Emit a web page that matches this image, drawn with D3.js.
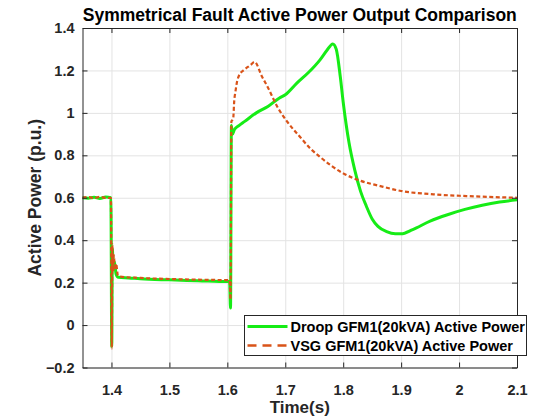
<!DOCTYPE html>
<html>
<head>
<meta charset="utf-8">
<script src="https://cdn.jsdelivr.net/npm/d3@7"></script>
<style>
  body { margin: 0; background: #fff; }
  svg { display: block; font-family: 'Liberation Sans', Arial, sans-serif; font-weight: bold; }
  .grid line { stroke: #e3e3e3; stroke-width: 1; }
  .grid .domain { display: none; }
  .axis text { fill: #262626; font-size: 14.5px; }
  .axis line, .axis path { stroke: #262626; }
</style>
</head>
<body>
<div id="chart"></div>
<script>
// droop GFM1 active power
const droopTime = [1.35, 1.36, 1.37, 1.38, 1.39, 1.399, 1.4005, 1.4015, 1.403, 1.405, 1.408, 1.412,
  1.43, 1.45, 1.5, 1.55, 1.6, 1.604, 1.6055, 1.607, 1.609, 1.612, 1.62, 1.63, 1.65, 1.67, 1.69,
  1.7, 1.72, 1.74, 1.76, 1.772, 1.782, 1.788, 1.795, 1.8, 1.81, 1.82, 1.83, 1.84, 1.85, 1.86,
  1.875, 1.89, 1.9, 1.92, 1.95, 1.98, 2.01, 2.04, 2.07, 2.1]
const droopPower = [0.6, 0.598, 0.602, 0.597, 0.603, 0.6, -0.1, 0.36, 0.27, 0.3, 0.24, 0.225,
  0.222, 0.218, 0.213, 0.209, 0.205, 0.205, 0.08, 0.94, 0.9, 0.92, 0.94, 0.96, 1.0, 1.03, 1.07,
  1.085, 1.14, 1.19, 1.25, 1.295, 1.325, 1.3, 1.17, 1.05, 0.86, 0.73, 0.63, 0.56, 0.5, 0.465,
  0.44, 0.43, 0.43, 0.45, 0.49, 0.52, 0.545, 0.565, 0.58, 0.59]

// VSG GFM1 active power
const vsgTime = [1.35, 1.36, 1.37, 1.38, 1.39, 1.399, 1.4005, 1.4015, 1.4025, 1.404, 1.406, 1.408,
  1.411, 1.415, 1.45, 1.5, 1.55, 1.6, 1.604, 1.6055, 1.607, 1.61, 1.612, 1.614, 1.617, 1.62,
  1.63, 1.64, 1.647, 1.66, 1.67, 1.686, 1.703, 1.726, 1.744, 1.761, 1.78, 1.8, 1.83, 1.864,
  1.9, 1.956, 2.013, 2.05, 2.1]
const vsgPower = [0.6, 0.603, 0.598, 0.604, 0.599, 0.6, -0.11, 0.38, 0.25, 0.33, 0.26, 0.29,
  0.235, 0.228, 0.222, 0.217, 0.214, 0.212, 0.212, 0.12, 0.96, 0.97, 1.06, 1.1, 1.15, 1.175,
  1.205, 1.225, 1.24, 1.17, 1.12, 1.03, 0.96, 0.885, 0.83, 0.79, 0.75, 0.715, 0.68, 0.655,
  0.632, 0.616, 0.608, 0.604, 0.6]

const xTicks = [1.4, 1.5, 1.6, 1.7, 1.8, 1.9, 2, 2.1]
const yTicks = [-0.2, 0, 0.2, 0.4, 0.6, 0.8, 1, 1.2, 1.4]

const seriesNames = ['Droop GFM1(20kVA) Active Power', 'VSG GFM1(20kVA) Active Power']
const seriesColors = ['#16ec16', '#d95319']

const width = 536
const height = 418
const margin = { top: 28, right: 19, bottom: 50.5, left: 82.5 }
const innerW = width - margin.left - margin.right
const innerH = height - margin.top - margin.bottom

const svg = d3
  .select('#chart')
  .append('svg')
  .attr('width', width)
  .attr('height', height)

const g = svg.append('g').attr('transform', `translate(${margin.left},${margin.top})`)

const x = d3.scaleLinear().domain([1.35, 2.1]).range([0, innerW])
const y = d3.scaleLinear().domain([-0.2, 1.4]).range([innerH, 0])

// grid
g.append('g')
  .attr('class', 'grid')
  .attr('transform', `translate(0,${innerH})`)
  .call(d3.axisBottom(x).tickValues(xTicks).tickSize(-innerH).tickFormat(''))
g.append('g')
  .attr('class', 'grid')
  .call(d3.axisLeft(y).tickValues(yTicks).tickSize(-innerW).tickFormat(''))

// series
const line = d3
  .line()
  .x((d) => x(d[0]))
  .y((d) => y(d[1]))
  .curve(d3.curveMonotoneX)

g.append('path')
  .datum(d3.zip(droopTime, droopPower))
  .attr('fill', 'none')
  .attr('stroke', seriesColors[0])
  .attr('stroke-width', 3)
  .attr('stroke-linejoin', 'round')
  .attr('d', line)

g.append('path')
  .datum(d3.zip(vsgTime, vsgPower))
  .attr('fill', 'none')
  .attr('stroke', seriesColors[1])
  .attr('stroke-width', 2.2)
  .attr('stroke-dasharray', '4,2.5')
  .attr('d', line)

// axes, ticks pointing inward like matlab
g.append('g')
  .attr('class', 'axis')
  .attr('transform', `translate(0,${innerH})`)
  .call(d3.axisBottom(x).tickValues(xTicks).tickSizeInner(-5).tickSizeOuter(0).tickPadding(17).tickFormat(d3.format('')))
g.append('g')
  .attr('class', 'axis')
  .call(d3.axisTop(x).tickValues(xTicks).tickSizeInner(-5).tickSizeOuter(0).tickFormat(''))
g.append('g')
  .attr('class', 'axis')
  .call(d3.axisLeft(y).tickValues(yTicks).tickSizeInner(-5).tickSizeOuter(0).tickPadding(8).tickFormat(d3.format('')))
g.append('g')
  .attr('class', 'axis')
  .attr('transform', `translate(${innerW},0)`)
  .call(d3.axisRight(y).tickValues(yTicks).tickSizeInner(-5).tickSizeOuter(0).tickFormat(''))

// labels
svg.append('text')
  .attr('x', margin.left + innerW / 2)
  .attr('y', 21)
  .attr('text-anchor', 'middle')
  .attr('fill', '#000')
  .style('font-size', '17.5px')
  .text('Symmetrical Fault Active Power Output Comparison')

svg.append('text')
  .attr('x', margin.left + innerW / 2)
  .attr('y', 413)
  .attr('text-anchor', 'middle')
  .attr('fill', '#262626')
  .style('font-size', '17px')
  .text('Time(s)')

svg.append('text')
  .attr('transform', `translate(41,${margin.top + innerH / 2}) rotate(-90)`)
  .attr('text-anchor', 'middle')
  .attr('fill', '#262626')
  .style('font-size', '17.5px')
  .text('Active Power (p.u.)')

// legend
const legend = svg.append('g').attr('transform', 'translate(244.5,315.5)')
legend.append('rect')
  .attr('width', 282)
  .attr('height', 40)
  .attr('fill', '#fff')
  .attr('stroke', '#262626')

seriesNames.forEach((name, i) => {
  const row = legend.append('g').attr('transform', `translate(0,${11 + i * 19})`)
  row.append('line')
    .attr('x1', 3)
    .attr('x2', 43)
    .attr('stroke', seriesColors[i])
    .attr('stroke-width', i === 0 ? 3 : 2.5)
    .attr('stroke-dasharray', i === 0 ? null : '9,6')
  row.append('text')
    .attr('x', 46)
    .attr('y', 5)
    .attr('fill', '#000')
    .style('font-size', '14.5px')
    .text(name)
})
</script>
</body>
</html>
